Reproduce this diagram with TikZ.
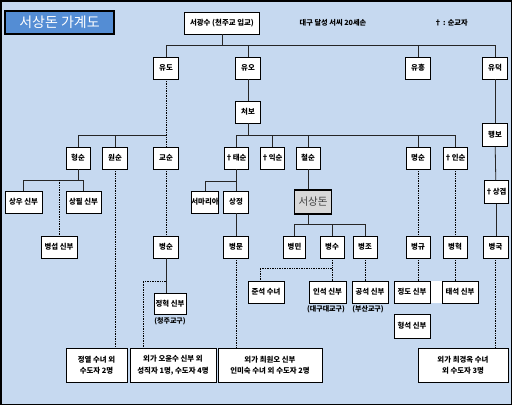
\documentclass[tikz,border=0pt]{standalone}
\usepackage{fontspec}
\setmainfont{Noto Sans CJK KR}
\usetikzlibrary{positioning, shadows}
\definecolor{bgblue}{RGB}{198,217,240}
\definecolor{titleblue}{RGB}{84,141,212}
\definecolor{selfgray}{RGB}{216,216,216}

\begin{document}
\begin{tikzpicture}[
  x=1pt, y=-1pt,
  base/.style={
    draw=black, fill=white, line width=0.6pt,
    inner sep=0pt, align=center,
    font=\fontsize{7.4}{9}\selectfont\bfseries,
    drop shadow={shadow xshift=0.8pt, shadow yshift=-0.8pt,
      fill=black, opacity=1},
  },
  person/.style={base, minimum width=25pt, minimum height=22pt},
  priest/.style={base, minimum width=36pt, minimum height=22pt},
  notebox/.style={base, minimum height=34pt,
    font=\fontsize{7.4}{11.5}\selectfont\bfseries},
  selfbox/.style={base, fill=selfgray, line width=1.2pt,
    minimum width=37pt, minimum height=24pt,
    font=\fontsize{10.5}{12}\selectfont, text=black!75},
  titlebox/.style={base, fill=titleblue, line width=1.6pt,
    minimum width=109pt, minimum height=23pt,
    font=\fontsize{14}{16}\selectfont, text=white},
  plain/.style={font=\fontsize{7.2}{8}\selectfont\bfseries, inner sep=0pt},
  diocese/.style={font=\fontsize{7}{8}\selectfont\bfseries, inner sep=0pt},
  link/.style={draw=black!85, line width=0.8pt},
  dotlink/.style={draw=black, line width=0.8pt,
    dash pattern=on 0.8pt off 0.9pt},
]

% Row y-positions
\def\rA{68}
\def\rB{158}
\def\rC{202}
\def\rD{247}
\def\rE{292}
\def\rF{365}

% ---- Frame and background ----
\useasboundingbox (0,0) rectangle (512,405);
\draw[fill=bgblue, line width=1.5pt] (0.75,0.75) rectangle (511.25,404.25);

% ---- Heading ----
\node[titlebox] (title) at (59.5,22.5) {서상돈 가계도};
\node[base, minimum width=75pt, minimum height=22pt] (root) at (222,23)
  {서광수 (천주교 입교)};
\node[plain] (clan) at (333,23) {대구 달성 서씨 20세손};
\node[plain] (legend) at (451,23) {† : 순교자};

% ======== Generation 1 ========
\node[person] (yudo) at (166,\rA) {유도};
\node[person] (yuo) at (248,\rA) {유오};
\node[person] (yuheung) at (418,\rA) {유흥};
\node[person] (yudeok) at (495,\rA) {유덕};

\node[person] (cheobo) at (248,112) {처보};
\node[person, minimum height=23pt] (haengbo) at (495,135) {행보};

% ======== Generation 2 ========
\node[person, minimum width=24pt] (hyeongsun) at (78,\rB) {형순};
\node[person] (wonsun) at (115,\rB) {원순};
\node[person] (gyosun) at (166,\rB) {교순};
\node[person, minimum width=24pt] (taesun) at (236,\rB) {†태순};
\node[person, minimum width=24pt] (iksun) at (272,\rB) {†익순};
\node[person, minimum width=24pt] (cheolsun) at (308,\rB) {철순};
\node[person, minimum width=24pt] (myeongsun) at (418,\rB) {명순};
\node[person, minimum width=24pt] (insun) at (455,\rB) {†인순};
\node[person, minimum width=24pt, minimum height=23pt] (sanggyeom)
  at (496,192) {†상겸};

% ======== Generation 3 ========
\node[priest, minimum width=37pt] (sangwoo) at (23.5,\rC) {상우 신부};
\node[priest, minimum width=35pt] (sangpil) at (83.5,\rC) {상필 신부};
\node[person, minimum width=26pt] (maria) at (205,\rC) {서마리아};
\node[person] (sangjeong) at (236,\rC) {상정};
\node[selfbox] (sangdon) at (313,\rC) {서상돈};

% ======== Generation 4 ========
\node[priest] (byeongseop) at (59,\rD) {병섭 신부};
\node[person] (byeongsun) at (166,\rD) {병순};
\node[person] (byeongmun) at (236,\rD) {병문};
\node[person, minimum width=22pt] (byeongmin) at (294.5,\rD) {병민};
\node[person, minimum width=24pt] (byeongsu) at (332,\rD) {병수};
\node[person, minimum width=24pt] (byeongjo) at (365,\rD) {병조};
\node[person, minimum width=24pt] (byeonggyu) at (418,\rD) {병규};
\node[person, minimum width=24pt] (byeonghyeok) at (455,\rD) {병혁};
\node[person] (byeongguk) at (495.5,\rD) {병국};

% ======== Generation 5 ========
\node[priest, minimum width=32pt, minimum height=21pt] (jeonghyeok)
  at (170,303.5) {정혁 신부};
\node[diocese] (cheongju) at (170,321) {(청주교구)};
\node[priest] (junseok) at (266,\rE) {준석 수녀};
\node[priest, minimum width=37pt] (inseok) at (327.5,\rE) {인석 신부};
\node[diocese] (daegu) at (326,309) {(대구대교구)};
\node[priest] (gongseok) at (370,\rE) {공석 신부};
\node[diocese] (busan) at (368,309) {(부산교구)};
\fill[white] (431,281) rectangle (442,303);
\node[priest] (jeongdo) at (412,\rE) {정도 신부};
\node[priest] (taeseok) at (460,\rE) {태석 신부};
\node[priest, minimum height=24pt] (hyeongseok) at (412,326) {형석 신부};

% ---- Maternal lines ----
\node[notebox, minimum width=61pt] (jeongyeol) at (96.5,\rF)
  {정열 수녀 외\\수도자 2명};
\node[notebox, minimum width=86pt] (ohyunsu) at (173,\rF)
  {외가 오윤수 신부 외\\성직자 1명, 수도자 4명};
\node[notebox, minimum width=104pt] (choewono) at (270,\rF)
  {외가 최원오 신부\\인미숙 수녀 외 수도자 2명};
\node[notebox, minimum width=90pt] (choegyeongok) at (463,\rF)
  {외가 최경옥 수녀\\외 수도자 3명};

% ---- Bus lines ----
\coordinate (busA) at (0,45);
\coordinate (busB) at (0,135);
\coordinate (busH) at (0,180);
\coordinate (busT) at (0,181);
\coordinate (busS) at (0,224);
\coordinate (sudrop) at (260,268);
\coordinate (ohdrop) at (143,281);

% ======== Solid lines ========
\draw[link] (root.south) -- (root.south |- busA) -| (yudo.north);
\draw[link] (root.south |- busA) -| (yuo.north);
\draw[link] (root.south |- busA) -| (yuheung.north);
\draw[link] (root.south |- busA) -| (yudeok.north);

\draw[link] (yuo) -- (cheobo);
\draw[link] (cheobo.south) -- (cheobo.south |- busB) -| (taesun.north);
\draw[link] (cheobo.south |- busB) -| (iksun.north);
\draw[link] (cheobo.south |- busB) -| (cheolsun.north);
\draw[link] (cheobo.south |- busB) -| (myeongsun.north);
\draw[link] (cheobo.south |- busB) -| (insun.north);

\draw[link] (yudo.south |- busB) -| (hyeongsun.north);
\draw[link] (yudo.south |- busB) -| (wonsun.north);

\draw[link] (hyeongsun.south) -- (hyeongsun.south |- busH) -| (sangwoo.north);
\draw[link] (hyeongsun.south |- busH) -| (sangpil.north);

\draw[link] (taesun) -- (sangjeong);
\draw[link] (taesun.south |- busT) -| (maria.north);
\draw[link] (sangjeong) -- (byeongmun);

\draw[link] (cheolsun.south) -- (cheolsun.south |- sangdon.north);
\draw[link] (cheolsun.south |- sangdon.south) -- (cheolsun.south |- busS)
  -| (byeongmin.north);
\draw[link] (cheolsun.south |- busS) -| (byeongsu.north);
\draw[link] (cheolsun.south |- busS) -| (byeongjo.north);

\draw[link] (byeongsun.south) -- (byeongsun.south |- jeonghyeok.north);

\draw[link] (yudeok) -- (haengbo);
\draw[link] (haengbo) -- (sanggyeom);
\draw[link] (sanggyeom.south) -- (sanggyeom.south |- byeongguk.north);

% ======== Dotted lines ========
\draw[dotlink] (yudo) -- (gyosun);
\draw[dotlink] (gyosun) -- (byeongsun);
\draw[dotlink] (byeongseop.north |- busH) -- (byeongseop.north);
\draw[dotlink] (wonsun.south) -- (wonsun.south |- jeongyeol.north);
\draw[dotlink] (byeongsun.south |- ohdrop) -- (ohdrop) -- (ohdrop |- ohyunsu.north);
\draw[dotlink] (byeongmun.south) -- (byeongmun.south |- choewono.north);
\draw[dotlink] (byeongsu.south) -- (byeongsu.south |- inseok.north);
\draw[dotlink] (byeongsu.south |- sudrop) -- (sudrop) -- (sudrop |- junseok.north);
\draw[dotlink] (byeongjo.south) -- (byeongjo.south |- gongseok.north);
\draw[dotlink] (myeongsun) -- (byeonggyu);
\draw[dotlink] (byeonggyu.south) -- (byeonggyu.south |- jeongdo.north);
\draw[dotlink] (insun) -- (byeonghyeok);
\draw[dotlink] (byeonghyeok.south) -- (byeonghyeok.south |- taeseok.north);
\draw[dotlink] (byeongguk.south) -- (byeongguk.south |- choegyeongok.north);

\end{tikzpicture}
\end{document}
